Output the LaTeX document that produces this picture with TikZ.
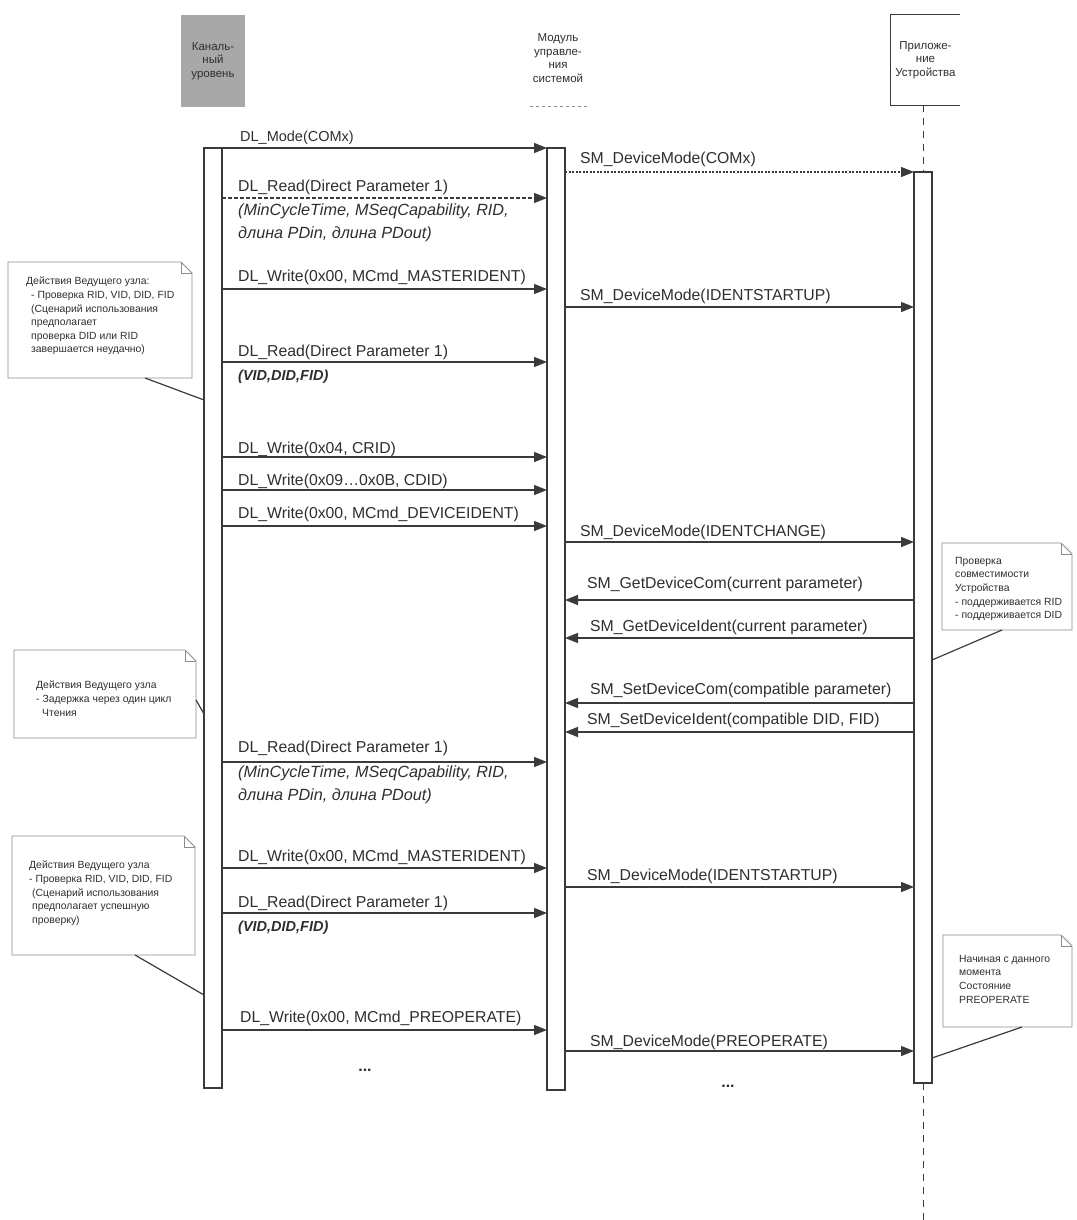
\documentclass[tikz,border=0pt]{standalone}
\usepackage{fontspec}
\setmainfont{Liberation Sans}
\usetikzlibrary{arrows.meta}
\definecolor{ln}{HTML}{3A3A3A}
\definecolor{txt}{HTML}{2E2E2E}
\definecolor{notec}{HTML}{8C8C8C}
\definecolor{hdrgray}{HTML}{A8A8A8}
\newcommand\mynote[4]{%
  \draw[noteline] (#1,#2) -- ({#3-11},#2) -- (#3,{#2+11}) -- (#3,#4) -- (#1,#4) -- cycle;
  \draw[noteline] ({#3-11},#2) -- ({#3-11},{#2+11}) -- (#3,{#2+11});}
\begin{document}
\begin{tikzpicture}[x=1pt,y=-1pt,
  bar/.style={draw=ln, line width=1.6pt, fill=white, minimum width=18pt, inner sep=0pt, outer sep=0pt},
  msg/.style={draw=ln, line width=1.4pt, -{Triangle[length=13pt,width=10pt]}},
  lbl/.style={anchor=base west, inner sep=0pt, text=txt, font=\fontsize{15.8}{18}\selectfont},
  retv/.style={anchor=north west, inner sep=0pt, text=txt, align=left, font=\fontsize{16.2}{23}\selectfont\itshape},
  notetxt/.style={anchor=north west, align=left, inner sep=0pt, text=txt, font=\fontsize{10.4}{13.6}\selectfont},
  noteline/.style={draw=notec, line width=0.8pt},
  notelink/.style={draw=ln, line width=1.2pt},
  hdrtxt/.style={align=center, text=txt, font=\fontsize{11.5}{13.5}\selectfont},
  lifeline/.style={draw=ln, line width=1pt, dashed, dash pattern=on 7pt off 6pt}]
\useasboundingbox (0,0) rectangle (1076,1220);
% headers
\node[fill=hdrgray, minimum width=64pt, minimum height=92pt, inner sep=0pt, hdrtxt] (hL) at (213,61) {Каналь-\\ный\\уровень};
\node[hdrtxt] (hM) at (558,58) {Модуль\\управле-\\ния\\системой};
\draw[noteline, dashed] (530,106) -- (590,106);
\node[hdrtxt, minimum width=69pt, minimum height=90pt, inner sep=0pt] (hR) at (925.5,60) {Приложе-\\ние\\Устройства};
\draw[draw=ln, line width=1pt] (hR.north east) -- (hR.north west) -- (hR.south west) -- (hR.south east);
% activation bars
\node[bar, minimum height=940pt] (lb) at (213,618) {};
\node[bar, minimum height=942pt] (mb) at (556,619) {};
\node[bar, minimum height=911pt] (rb) at (923,627.5) {};
\draw[lifeline] (rb.north |- hR.south) -- (rb.north);
\draw[lifeline] (rb.south) -- (923,1220);
% messages
\draw[msg] (lb.east |- 0,148) -- (mb.west |- 0,148);
\node[lbl, font=\fontsize{14.5}{17}\selectfont] (l1) at (240,141) {DL\_Mode(COMx)};
\draw[msg, dash pattern=on 2pt off 1.5pt] (mb.east |- 0,172) -- (rb.west |- 0,172);
\node[lbl] (l2) at (580,164) {SM\_DeviceMode(COMx)};
\draw[msg, dash pattern=on 4pt off 2pt] (lb.east |- 0,198) -- (mb.west |- 0,198);
\node[lbl] (l3) at (238,191) {DL\_Read(Direct Parameter 1)};
\node[retv] (r3) at (238,204) {(MinCycleTime, MSeqCapability, RID,\\длина PDin, длина PDout)};
\draw[msg] (lb.east |- 0,289) -- (mb.west |- 0,289);
\node[lbl] (l4) at (238,281) {DL\_Write(0x00, MCmd\_MASTERIDENT)};
\draw[msg] (mb.east |- 0,307) -- (rb.west |- 0,307);
\node[lbl] (l5) at (580,300) {SM\_DeviceMode(IDENTSTARTUP)};
\draw[msg] (lb.east |- 0,362) -- (mb.west |- 0,362);
\node[lbl] (l6) at (238,356) {DL\_Read(Direct Parameter 1)};
\node[retv, font=\fontsize{14.5}{17}\selectfont\itshape\bfseries] (r6) at (238,370) {(VID,DID,FID)};
\draw[msg] (lb.east |- 0,457) -- (mb.west |- 0,457);
\node[lbl] (l7) at (238,453) {DL\_Write(0x04, CRID)};
\draw[msg] (lb.east |- 0,490) -- (mb.west |- 0,490);
\node[lbl] (l8) at (238,485) {DL\_Write(0x09…0x0B, CDID)};
\draw[msg] (lb.east |- 0,526) -- (mb.west |- 0,526);
\node[lbl] (l9) at (238,518) {DL\_Write(0x00, MCmd\_DEVICEIDENT)};
\draw[msg] (mb.east |- 0,542) -- (rb.west |- 0,542);
\node[lbl] (l10) at (580,536) {SM\_DeviceMode(IDENTCHANGE)};
\draw[msg] (rb.west |- 0,600) -- (mb.east |- 0,600);
\node[lbl] (l11) at (587,588) {SM\_GetDeviceCom(current parameter)};
\draw[msg] (rb.west |- 0,638) -- (mb.east |- 0,638);
\node[lbl] (l12) at (590,631) {SM\_GetDeviceIdent(current parameter)};
\draw[msg] (rb.west |- 0,703) -- (mb.east |- 0,703);
\node[lbl] (l13) at (590,694) {SM\_SetDeviceCom(compatible parameter)};
\draw[msg] (rb.west |- 0,732) -- (mb.east |- 0,732);
\node[lbl] (l14) at (587,724) {SM\_SetDeviceIdent(compatible DID, FID)};
\draw[msg] (lb.east |- 0,762) -- (mb.west |- 0,762);
\node[lbl] (l15) at (238,752) {DL\_Read(Direct Parameter 1)};
\node[retv] (r15) at (238,766) {(MinCycleTime, MSeqCapability, RID,\\длина PDin, длина PDout)};
\draw[msg] (lb.east |- 0,868) -- (mb.west |- 0,868);
\node[lbl] (l16) at (238,861) {DL\_Write(0x00, MCmd\_MASTERIDENT)};
\draw[msg] (mb.east |- 0,887) -- (rb.west |- 0,887);
\node[lbl] (l17) at (587,880) {SM\_DeviceMode(IDENTSTARTUP)};
\draw[msg] (lb.east |- 0,913) -- (mb.west |- 0,913);
\node[lbl] (l18) at (238,907) {DL\_Read(Direct Parameter 1)};
\node[retv, font=\fontsize{14.5}{17}\selectfont\itshape\bfseries] (r18) at (238,921) {(VID,DID,FID)};
\draw[msg] (lb.east |- 0,1030) -- (mb.west |- 0,1030);
\node[lbl] (l19) at (240,1022) {DL\_Write(0x00, MCmd\_PREOPERATE)};
\draw[msg] (mb.east |- 0,1051) -- (rb.west |- 0,1051);
\node[lbl] (l20) at (590,1046) {SM\_DeviceMode(PREOPERATE)};
\node[text=txt, font=\fontsize{16}{16}\selectfont\bfseries] (dots1) at (365,1070) {...};
\node[text=txt, font=\fontsize{16}{16}\selectfont\bfseries] (dots2) at (728,1086) {...};
% note 1
\mynote{8}{262}{192}{378}
\node[notetxt] (n1) at (26,277) {Действия Ведущего узла:\\\hspace*{5pt}- Проверка RID, VID, DID, FID\\\hspace*{5pt}(Сценарий использования\\\hspace*{5pt}предполагает\\\hspace*{5pt}проверка DID или RID\\\hspace*{5pt}завершается неудачно)};
\coordinate (n1c) at (145,378);
\draw[notelink] (n1c) -- (lb.west |- 0,400);
% note 2
\mynote{942}{543}{1072}{630}
\node[notetxt] (n2) at (955,557) {Проверка\\совместимости\\Устройства\\- поддерживается RID\\- поддерживается DID};
\coordinate (n2c) at (1002,630);
\draw[notelink] (n2c) -- (rb.east |- 0,660);
% note 3
\mynote{14}{650}{196}{738}
\node[notetxt] (n3) at (36,681) {Действия Ведущего узла\\- Задержка через один цикл\\\hspace*{6pt}Чтения};
\coordinate (n3c) at (196,700);
\draw[notelink] (n3c) -- (lb.west |- 0,714);
% note 4
\mynote{12}{836}{195}{955}
\node[notetxt] (n4) at (29,861) {Действия Ведущего узла\\- Проверка RID, VID, DID, FID\\\hspace*{3pt}(Сценарий использования\\\hspace*{3pt}предполагает успешную\\\hspace*{3pt}проверку)};
\coordinate (n4c) at (135,955);
\draw[notelink] (n4c) -- (lb.west |- 0,995);
% note 5
\mynote{943}{935}{1072}{1027}
\node[notetxt] (n5) at (959,955) {Начиная с данного\\момента\\Состояние\\PREOPERATE};
\coordinate (n5c) at (1022,1027);
\draw[notelink] (n5c) -- (rb.east |- 0,1058);
\end{tikzpicture}
\end{document}
